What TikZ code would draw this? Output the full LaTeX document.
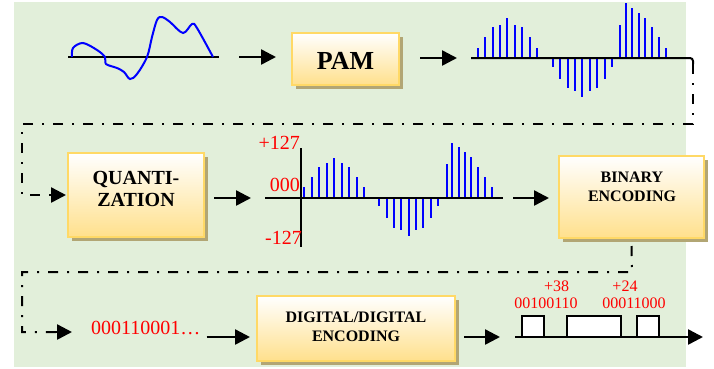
\documentclass[tikz,border=0pt]{standalone}
\usepackage{fontspec}
\setmainfont{Liberation Serif}
\usetikzlibrary{arrows.meta,shadows,calc}
\definecolor{bg}{HTML}{E2EFDA}
\definecolor{boxline}{HTML}{FFD966}
\definecolor{boxbot}{HTML}{FFE08C}
\definecolor{shadowc}{HTML}{B2A674}
\definecolor{sig}{HTML}{0000FF}
\definecolor{lbl}{HTML}{FF0000}
\begin{document}
\begin{tikzpicture}[x=1pt,y=-1pt,
  blk/.style={draw=boxline, line width=2pt, top color=white, bottom color=boxbot,
    drop shadow={shadow xshift=4pt, shadow yshift=-4pt, fill=shadowc, opacity=1}, inner sep=0pt},
  blktxt/.style={font=\bfseries, align=center, inner sep=0pt},
  arr/.style={line width=2.5pt, -{Triangle[length=15pt,width=15pt]}},
  dd/.style={line width=2pt, dash pattern=on 10pt off 9pt on 2pt off 9pt},
  stick/.style={draw=sig, line width=2pt},
  axisline/.style={line width=2pt},
  rlbl/.style={text=lbl, inner sep=0pt}
]
\useasboundingbox (0,0) rectangle (714,368);
\fill[bg] (14,2) rectangle (686,367);

% ---------- row 1 ----------
\coordinate (wL) at (68,57);
\coordinate (wR) at (219,57);
\draw[axisline] (wL) -- (wR);
\draw[sig, line width=2pt] plot[smooth, tension=0.55] coordinates {
 (72,57) (73,48) (83,43) (97,50) (105,57) (106,64) (117,68) (124,72) (130,79)
 (137,74) (147,57) (152,37) (157,20) (162,17) (170,22) (183,33) (192,24) (197,28) (213,57)};

\node[blk, minimum width=107pt, minimum height=52pt] (pam) at (345.5,59) {};
\node[blktxt, font=\bfseries\fontsize{26}{30}\selectfont] (pamT) at (345.5,61) {PAM};
\draw[arr] ([xshift=20pt]wR) -- ([xshift=-15pt]pam.west |- wR);

\coordinate (pL) at (471,58);
\coordinate (pR) at (693,58);
\coordinate (pD) at (693,64);
\draw[arr] ([xshift=20pt]pam.east |- pL) -- ([xshift=-14pt]pL);
\foreach \x/\t in {477.7/48.3, 485.3/37.3, 492.7/27.3, 500/25, 507.3/18.3, 514.7/25, 522.3/27.3, 529.7/37.3, 537/48.3,
  552.7/66.7, 560/79, 567.7/88.3, 575/90.7, 582.3/96.7, 589.7/90.7, 597/88.3, 604.7/79, 612/66.7,
  620/25, 626/2.7, 632.3/8.3, 639/12.7, 645.3/17.7, 651.7/27.3, 659/37.3, 666/48.3}
  \draw[stick] (\x,58) -- (\x,\t);
\draw[axisline, rounded corners=3pt] (pL) -- (pR) -- (pD);

% ---------- row 2 ----------
\node[blk, minimum width=136pt, minimum height=84pt] (quant) at (136,195) {};
\node[blktxt, font=\bfseries\fontsize{20}{22}\selectfont] (quantT) at (136,189) {QUANTI-\\ZATION};

\coordinate (k1) at (693,124);
\coordinate (k2) at (22,124);
\coordinate (k3) at (22,195);
\draw[dd] (pD) -- (k1) -- (k2) -- (k3) -- ([xshift=-15pt]quant.west |- k3);
\draw[arr] ([xshift=-17pt]quant.west |- k3) -- ([xshift=-1pt]quant.west |- k3);

\coordinate (qV1) at (301,148);
\coordinate (qV2) at (301,247);
\coordinate (qH1) at (265,198);
\coordinate (qH2) at (503,198);
\draw[arr] ([xshift=9pt]quant.east |- qH1) -- ([xshift=-14pt]qH1);
\foreach \x/\t in {304/186.7, 311.5/176.7, 319/166.7, 326.5/163.3, 334/158.3, 341.5/163.3, 349/166.7, 356.5/176.7, 364/186.7,
  379/206, 386.7/218.3, 394/228.3, 401.3/230, 409/236, 416/230, 423.3/228.3, 431/218.3, 438.3/206,
  446.7/164.3, 452.3/142.7, 458.7/147.3, 465/152.3, 471.3/157.3, 477.7/166.7, 485/176.7, 492.3/187.3}
  \draw[stick] (\x,198) -- (\x,\t);
\draw[axisline] (qH1) -- (qH2);
\draw[axisline] (qV1) -- (qV2);
\node[rlbl, anchor=east, font=\fontsize{20}{24}\selectfont] (lp) at (300,143) {+127};
\node[rlbl, anchor=east, font=\fontsize{20}{24}\selectfont] (lz) at (300,185) {000};
\node[rlbl, anchor=east, font=\fontsize{20}{24}\selectfont] (lm) at (302,238) {-127};

\node[blk, minimum width=145pt, minimum height=82pt] (binary) at (631.5,197) {};
\node[blktxt, font=\bfseries\fontsize{16}{19}\selectfont] (binaryT) at (632,186.5) {BINARY\\ENCODING};
\draw[arr] ([xshift=10pt]qH2) -- ([xshift=-9pt]binary.west |- qH2);

% ---------- row 3 ----------
\node[rlbl, anchor=west, font=\fontsize{20}{24}\selectfont] (bits) at (91,328) {000110001…};
\coordinate (k4) at (632,272);
\coordinate (k5) at (22,272);
\coordinate (k6) at (22,332);
\draw[dd] ([yshift=-7pt]binary.south) -- (k4) -- (k5) -- (k6) -- ([xshift=-33pt]bits.west |- k6);
\draw[arr] ([xshift=-35pt]bits.west |- k6) -- ([xshift=-19pt]bits.west |- k6);

\node[blk, minimum width=198pt, minimum height=65pt] (dde) at (356,328.5) {};
\node[blktxt, font=\bfseries\fontsize{16}{19}\selectfont] (ddeT) at (356,326.5) {DIGITAL/DIGITAL\\ENCODING};

\coordinate (row3) at (0,337);
\coordinate (sL) at (515,337);
\coordinate (sR) at (703,337);
\draw[arr] ([xshift=6pt]bits.east |- row3) -- ([xshift=-6pt]dde.west |- row3);
\draw[arr] ([xshift=8pt]dde.east |- row3) -- ([xshift=-15pt]sL);

\draw[line width=2pt, fill=white] (522.3,315.7) rectangle (544.3,337);
\draw[line width=2pt, fill=white] (567.3,315.7) rectangle (620.7,337);
\draw[line width=2pt, fill=white] (636.7,315.7) rectangle (659,337);
\draw[arr] (sL) -- (sR);

\node[rlbl, font=\fontsize{16}{19}\selectfont] (c1) at (556.7,286) {+38};
\node[rlbl, font=\fontsize{16}{19}\selectfont] (b1) at (546,303) {00100110};
\node[rlbl, font=\fontsize{16}{19}\selectfont] (c2) at (625,286) {+24};
\node[rlbl, font=\fontsize{16}{19}\selectfont] (b2) at (634,303) {00011000};
\end{tikzpicture}
\end{document}
